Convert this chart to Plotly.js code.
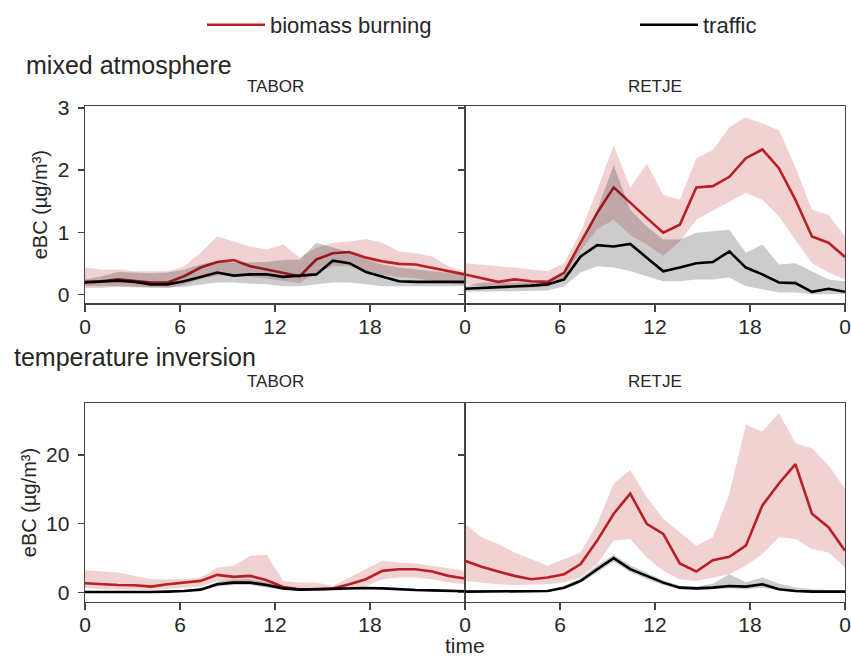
<!DOCTYPE html>
<html>
<head>
<meta charset="utf-8">
<script src="https://cdn.plot.ly/plotly-3.0.1.min.js"></script>
<style>html,body{margin:0;padding:0;background:#fff;}#chart{width:851px;height:657px;}</style>
</head>
<body>
<div id="chart"></div>
<script>
// hours of the day (24 samples spread over the 0..24 axis)
const hours = [0,1,2,3,4,5,6,7,8,9,10,11,12,13,14,15,16,17,18,19,20,21,22,23];
const xTickVals = [0,6,12,18,24];
const xTickTextLeft = ['0','6','12','18',''];
const xTickTextRight = ['0','6','12','18','0'];

// mixed atmosphere - TABOR
const bbMixTabor     = [0.20,0.21,0.24,0.21,0.19,0.19,0.29,0.43,0.52,0.55,0.45,0.40,0.35,0.29,0.56,0.66,0.68,0.59,0.53,0.49,0.48,0.43,0.37,0.32];
const bbMixTaborHi   = [0.43,0.40,0.40,0.37,0.37,0.37,0.45,0.67,0.93,0.85,0.77,0.72,0.80,0.59,0.75,0.83,0.85,0.89,0.83,0.69,0.66,0.61,0.45,0.37];
const bbMixTaborLo   = [0.10,0.10,0.12,0.11,0.10,0.10,0.15,0.25,0.30,0.32,0.28,0.25,0.22,0.18,0.35,0.45,0.45,0.38,0.32,0.28,0.26,0.22,0.18,0.15];
const trMixTabor     = [0.19,0.21,0.22,0.20,0.16,0.16,0.21,0.28,0.35,0.30,0.32,0.32,0.28,0.30,0.32,0.54,0.50,0.36,0.29,0.21,0.20,0.20,0.20,0.20];
const trMixTaborHi   = [0.24,0.29,0.36,0.35,0.34,0.35,0.40,0.48,0.53,0.51,0.51,0.52,0.55,0.56,0.83,0.75,0.68,0.56,0.48,0.43,0.40,0.37,0.35,0.32];
const trMixTaborLo   = [0.13,0.13,0.13,0.12,0.11,0.11,0.12,0.16,0.19,0.19,0.17,0.16,0.13,0.13,0.16,0.19,0.19,0.16,0.13,0.12,0.13,0.13,0.13,0.13];

// mixed atmosphere - RETJE
const bbMixRetje     = [0.32,0.26,0.20,0.24,0.21,0.20,0.35,0.83,1.31,1.72,1.47,1.23,0.99,1.12,1.72,1.74,1.89,2.19,2.33,2.03,1.52,0.93,0.83,0.60];
const bbMixRetjeHi   = [0.50,0.48,0.45,0.43,0.40,0.37,0.50,1.00,1.68,2.40,1.71,2.10,1.60,1.52,2.19,2.32,2.69,2.85,2.75,2.64,2.05,1.36,1.28,0.93];
const bbMixRetjeLo   = [0.16,0.13,0.11,0.12,0.11,0.12,0.27,0.70,1.05,1.20,0.95,0.80,0.62,0.85,1.20,1.35,1.49,1.63,1.52,1.25,0.88,0.50,0.35,0.24];
const trMixRetje     = [0.09,0.10,0.12,0.13,0.14,0.16,0.24,0.61,0.79,0.77,0.81,0.59,0.37,0.43,0.50,0.52,0.69,0.43,0.32,0.19,0.18,0.04,0.09,0.04];
const trMixRetjeHi   = [0.13,0.19,0.19,0.19,0.19,0.19,0.35,0.77,1.36,2.08,1.36,1.09,0.88,0.88,0.99,1.01,1.04,0.67,0.80,0.48,0.50,0.37,0.24,0.21];
const trMixRetjeLo   = [0.04,0.05,0.05,0.05,0.05,0.06,0.13,0.35,0.45,0.43,0.37,0.29,0.21,0.21,0.24,0.24,0.27,0.13,0.08,0.03,0.03,0.00,0.00,0.00];

// temperature inversion - TABOR
const bbInvTabor     = [1.37,1.22,1.12,1.07,0.88,1.22,1.46,1.71,2.59,2.29,2.44,1.80,0.83,0.49,0.49,0.59,1.22,1.95,3.17,3.41,3.41,3.07,2.44,2.05];
const bbInvTaborHi   = [3.27,3.07,2.93,2.44,1.95,1.95,1.95,2.20,3.66,3.90,5.37,5.50,1.70,1.46,1.46,0.98,2.20,3.41,4.63,4.39,4.24,3.90,3.51,3.17];
const bbInvTaborLo   = [0.73,0.49,0.45,0.45,0.40,0.55,0.70,0.90,1.70,1.46,1.22,0.73,0.34,0.24,0.24,0.24,0.49,0.98,1.95,2.20,2.20,1.95,1.46,1.22];
const trInvTabor     = [0.10,0.10,0.05,0.00,0.10,0.15,0.24,0.44,1.22,1.46,1.46,1.12,0.63,0.44,0.49,0.59,0.63,0.68,0.63,0.49,0.39,0.34,0.24,0.20];
const trInvTaborHi   = [0.25,0.25,0.20,0.15,0.25,0.30,0.40,0.65,1.60,1.90,1.95,1.50,0.85,0.60,0.65,0.75,0.80,0.85,0.80,0.65,0.55,0.50,0.40,0.35];
const trInvTaborLo   = [0.00,0.00,0.00,0.00,0.00,0.05,0.10,0.30,0.90,1.10,1.10,0.80,0.45,0.30,0.35,0.45,0.50,0.50,0.45,0.35,0.25,0.20,0.10,0.05];

// temperature inversion - RETJE
const bbInvRetje     = [4.63,3.76,3.07,2.44,1.95,2.20,2.68,4.15,7.56,11.46,14.39,10.00,8.54,4.24,3.07,4.73,5.22,6.83,12.68,15.85,18.68,11.46,9.51,6.10];
const bbInvRetjeHi   = [10.0,8.05,7.07,5.85,4.88,3.90,4.88,5.85,10.0,15.85,17.8,13.9,10.73,8.78,6.83,8.05,14.39,24.4,23.4,26.1,21.7,20.98,18.5,15.1];
const bbInvRetjeLo   = [1.70,1.46,1.22,1.12,1.12,1.22,1.46,2.20,4.15,7.56,7.80,5.10,3.17,1.95,1.70,2.20,2.68,3.90,5.60,8.05,7.80,6.34,5.85,3.66];
const trInvRetje     = [0.15,0.15,0.15,0.15,0.15,0.24,0.73,1.70,3.41,5.02,3.41,2.44,1.46,0.73,0.63,0.73,0.98,0.88,1.22,0.49,0.24,0.15,0.15,0.15];
const trInvRetjeHi   = [0.30,0.30,0.30,0.30,0.30,0.40,1.00,2.10,4.00,5.50,4.00,2.90,1.80,1.00,0.90,1.30,2.68,1.50,2.20,1.30,0.80,0.50,0.40,0.30];
const trInvRetjeLo   = [0.05,0.05,0.05,0.05,0.05,0.10,0.50,1.40,2.90,4.50,3.00,2.00,1.10,0.50,0.40,0.50,0.60,0.50,0.70,0.30,0.10,0.05,0.05,0.05];

const RED = 'rgb(183,32,36)';
const RED_FILL = 'rgba(183,32,36,0.2)';
const BLACK = '#000000';
const GREY_FILL = 'rgba(0,0,0,0.2)';
const FONT = 'Liberation Sans, Arial, sans-serif';
const TXT = '#262626';

const xs = hours.map(h => h * 24 / 23);

function band(lo, hi, fill, xa, ya) {
  return {
    x: xs.concat(xs.slice().reverse()),
    y: hi.concat(lo.slice().reverse()),
    type: 'scatter', mode: 'lines', fill: 'toself', fillcolor: fill,
    line: {width: 0, color: 'rgba(0,0,0,0)'}, hoverinfo: 'skip', showlegend: false,
    xaxis: xa, yaxis: ya
  };
}
function line(vals, color, name, xa, ya, show, legendId) {
  return {
    x: xs, y: vals, type: 'scatter', mode: 'lines', name: name,
    line: {color: color, width: 2.6}, showlegend: show, legendgroup: name,
    legend: legendId, xaxis: xa, yaxis: ya
  };
}

const panels = [
  {xa: 'x',  ya: 'y',  bb: bbMixTabor, bbLo: bbMixTaborLo, bbHi: bbMixTaborHi, tr: trMixTabor, trLo: trMixTaborLo, trHi: trMixTaborHi},
  {xa: 'x2', ya: 'y2', bb: bbMixRetje, bbLo: bbMixRetjeLo, bbHi: bbMixRetjeHi, tr: trMixRetje, trLo: trMixRetjeLo, trHi: trMixRetjeHi},
  {xa: 'x3', ya: 'y3', bb: bbInvTabor, bbLo: bbInvTaborLo, bbHi: bbInvTaborHi, tr: trInvTabor, trLo: trInvTaborLo, trHi: trInvTaborHi},
  {xa: 'x4', ya: 'y4', bb: bbInvRetje, bbLo: bbInvRetjeLo, bbHi: bbInvRetjeHi, tr: trInvRetje, trLo: trInvRetjeLo, trHi: trInvRetjeHi}
];

const traces = [];
panels.forEach((p, i) => {
  traces.push(band(p.bbLo, p.bbHi, RED_FILL, p.xa, p.ya));
  traces.push(line(p.bb, RED, 'biomass burning', p.xa, p.ya, i === 0, 'legend'));
  traces.push(band(p.trLo, p.trHi, GREY_FILL, p.xa, p.ya));
  traces.push(line(p.tr, BLACK, 'traffic', p.xa, p.ya, i === 0, 'legend2'));
});

const W = 851, H = 657;
const px = v => v / W;
const py = v => (H - v) / H;

const xDomL = [px(85), px(465)];
const xDomR = [px(465), px(845)];
const yDomTop = [py(303.3), py(106)];
const yDomBot = [py(601.7), py(403.3)];

const axisCommon = {
  showline: true, mirror: true, linecolor: '#444', linewidth: 1.4,
  ticks: 'outside', ticklen: 6, tickwidth: 1.3, tickcolor: '#444',
  showgrid: false, zeroline: false,
  tickfont: {family: FONT, size: 21, color: TXT}
};
function xAxis(dom, anchor, ticktext, title) {
  const a = Object.assign({}, axisCommon, {
    domain: dom, anchor: anchor, range: [0, 24],
    tickmode: 'array', tickvals: xTickVals, ticktext: ticktext, ticklen: 7,
    ticklabelstandoff: -3
  });
  if (title) a.title = {text: title, font: {family: FONT, size: 21, color: TXT}, standoff: 0};
  return a;
}
function yAxis(dom, anchor, range, tickvals, labels, title) {
  const a = Object.assign({}, axisCommon, {
    domain: dom, anchor: anchor, range: range,
    tickmode: 'array', tickvals: tickvals, showticklabels: labels, ticklabelstandoff: 4
  });
  if (title) a.title = {text: title, font: {family: FONT, size: 20, color: TXT}, standoff: 4};
  return a;
}

const legendCommon = {
  orientation: 'h', xanchor: 'left', y: py(25), yanchor: 'middle',
  font: {family: FONT, size: 22, color: TXT}, itemwidth: 58,
  bgcolor: 'rgba(0,0,0,0)'
};

const layout = {
  width: W, height: H,
  margin: {l: 0, r: 0, t: 0, b: 0},
  paper_bgcolor: '#ffffff', plot_bgcolor: '#ffffff',
  font: {family: FONT, color: TXT},
  showlegend: true,
  legend: Object.assign({}, legendCommon, {x: px(202)}),
  legend2: Object.assign({}, legendCommon, {x: px(635)}),
  xaxis:  xAxis(xDomL, 'y', xTickTextLeft),
  xaxis2: xAxis(xDomR, 'y2', xTickTextRight),
  xaxis3: xAxis(xDomL, 'y3', xTickTextLeft),
  xaxis4: xAxis(xDomR, 'y4', xTickTextRight),
  yaxis:  yAxis(yDomTop, 'x',  [-0.145, 3.03], [0,1,2,3], true, 'eBC (µg/m³)'),
  yaxis2: yAxis(yDomTop, 'x2', [-0.145, 3.03], [0,1,2,3], false),
  yaxis3: yAxis(yDomBot, 'x3', [-1.31, 27.5], [0,10,20], true, 'eBC (µg/m³)'),
  yaxis4: yAxis(yDomBot, 'x4', [-1.31, 27.5], [0,10,20], false),
  annotations: [
    {text: 'mixed atmosphere', xref: 'paper', yref: 'paper', x: px(24), y: py(65), xanchor: 'left', yanchor: 'middle', showarrow: false, font: {family: FONT, size: 25, color: TXT}},
    {text: 'TABOR', xref: 'paper', yref: 'paper', x: px(275), y: py(86), xanchor: 'center', yanchor: 'middle', showarrow: false, font: {family: FONT, size: 17, color: TXT}},
    {text: 'RETJE', xref: 'paper', yref: 'paper', x: px(655), y: py(86), xanchor: 'center', yanchor: 'middle', showarrow: false, font: {family: FONT, size: 17, color: TXT}},
    {text: 'temperature inversion', xref: 'paper', yref: 'paper', x: px(12), y: py(357), xanchor: 'left', yanchor: 'middle', showarrow: false, font: {family: FONT, size: 25, color: TXT}},
    {text: 'TABOR', xref: 'paper', yref: 'paper', x: px(275), y: py(381), xanchor: 'center', yanchor: 'middle', showarrow: false, font: {family: FONT, size: 17, color: TXT}},
    {text: 'RETJE', xref: 'paper', yref: 'paper', x: px(655), y: py(381), xanchor: 'center', yanchor: 'middle', showarrow: false, font: {family: FONT, size: 17, color: TXT}},
    {text: 'time', xref: 'paper', yref: 'paper', x: px(465), y: py(645), xanchor: 'center', yanchor: 'middle', showarrow: false, font: {family: FONT, size: 21, color: TXT}}
  ]
};

Plotly.newPlot('chart', traces, layout, {staticPlot: true, displayModeBar: false});
</script>
</body>
</html>
